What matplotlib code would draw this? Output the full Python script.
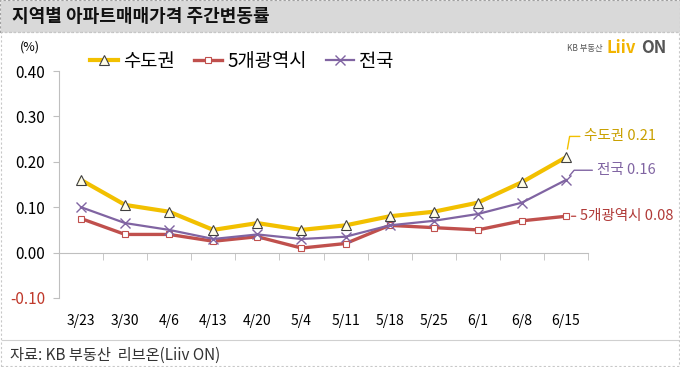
import matplotlib
matplotlib.use('Agg')
import matplotlib.pyplot as plt
from matplotlib.patches import Rectangle
from matplotlib.lines import Line2D

plt.rcParams['font.family'] = ['Noto Sans CJK KR', 'DejaVu Sans']

#data
weeks = ['3/23', '3/30', '4/6', '4/13', '4/20', '5/4', '5/11', '5/18', '5/25', '6/1', '6/8', '6/15']
sudo = [0.16, 0.105, 0.09, 0.05, 0.065, 0.05, 0.06, 0.08, 0.09, 0.11, 0.155, 0.21]
metro5 = [0.075, 0.04, 0.04, 0.025, 0.035, 0.01, 0.02, 0.06, 0.055, 0.05, 0.07, 0.08]
nation = [0.10, 0.065, 0.05, 0.03, 0.04, 0.03, 0.035, 0.06, 0.07, 0.085, 0.11, 0.16]
yticks = [-0.10, 0.00, 0.10, 0.20, 0.30, 0.40]

gold = '#F2C000'
red = '#C0504D'
purple = '#8064A2'
grey = '#BFBFBF'

W, H = 680, 367
fig = plt.figure(figsize=(6.8, 3.67), dpi=100)

#title band + borders
fig.patches.append(Rectangle((0, 1 - 32 / H), 1, 32 / H, transform=fig.transFigure,
                             facecolor='#D9D9D9', edgecolor='#A0A0A0', lw=0.8, ls=(0, (2, 2))))
fig.patches.append(Rectangle((0.001, 0.002), 0.997, 1 - 32 / H - 0.002, transform=fig.transFigure,
                             facecolor='none', edgecolor='#C8C8C8', lw=0.8, ls=(0, (2, 2))))
fig.text(12 / W, 1 - 17 / H, '지역별 아파트매매가격 주간변동률', fontsize=13, fontweight='bold',
         va='center', ha='left', color='#111111')
fig.add_artist(Line2D([0.003, 0.997], [1 - 340 / H] * 2, transform=fig.transFigure, color='#D0D0D0', lw=0.8))
fig.text(10 / W, 1 - 355 / H, '자료: KB 부동산  리브온(Liiv ON)', fontsize=11, va='center', ha='left', color='#333333')

#logo
fig.text(567 / W, 1 - 48 / H, 'KB 부동산', fontsize=6, va='center', ha='left', color='#555555')
fig.text(606 / W, 1 - 48 / H, 'Liiv', fontsize=12, fontweight='bold', va='center', ha='left', color='#F2B400')
fig.text(641 / W, 1 - 48 / H, 'ON', fontsize=12, fontweight='bold', va='center', ha='left', color='#555555')

ax = fig.add_axes([59 / W, 1 - 298 / H, 529 / W, 227 / H])
x = list(range(len(weeks)))

ax.plot(x, sudo, color=gold, lw=3.0, marker='^', ms=7, mfc='#FFFDE8', mec='#404040', mew=0.8, label='수도권', zorder=4)
ax.plot(x, metro5, color=red, lw=2.4, marker='s', ms=5, mfc='white', mec=red, mew=0.8, label='5개광역시', zorder=3)
ax.plot(x, nation, color=purple, lw=1.6, marker='x', ms=7, mec=purple, mew=1.0, label='전국', zorder=3)

ax.set_xlim(-0.5, len(weeks) - 0.5)
ax.set_ylim(-0.1, 0.4)
ax.set_yticks(yticks)
ax.set_yticklabels(['%.2f' % v for v in yticks], fontsize=11)
ax.get_yticklabels()[0].set_color('#C0392B')

ax.set_xticks(x)
ax.set_xticklabels(weeks, fontsize=11)
ax.set_xticks([i - 0.5 for i in range(len(weeks) + 1)], minor=True)
ax.tick_params(axis='x', which='major', length=0, pad=44)
ax.tick_params(axis='x', which='minor', length=5, color=grey, direction='out')
ax.tick_params(axis='y', length=4, color=grey, pad=6)

for s in ['top', 'right']:
    ax.spines[s].set_visible(False)
ax.spines['bottom'].set_position(('data', 0))
ax.spines['bottom'].set_color(grey)
ax.spines['left'].set_color(grey)

fig.text(30 / W, 1 - 47 / H, '(%)', fontsize=9, va='center', ha='center')

#end labels
ax.annotate('수도권 0.21', xy=(x[-1], sudo[-1]), xytext=(13, 15), textcoords='offset points',
            fontsize=10.5, color='#C9A000', va='center', ha='left',
            arrowprops=dict(arrowstyle='-', color=gold, lw=1, shrinkA=1, shrinkB=6,
                            connectionstyle='angle,angleA=180,angleB=80,rad=0'))
ax.annotate('전국 0.16', xy=(x[-1], nation[-1]), xytext=(22, 7), textcoords='offset points',
            fontsize=10.5, color=purple, va='center', ha='left',
            arrowprops=dict(arrowstyle='-', color=purple, lw=1, shrinkA=1, shrinkB=4,
                            connectionstyle='angle,angleA=180,angleB=50,rad=0'))
ax.annotate('5개광역시 0.08', xy=(x[-1], metro5[-1]), xytext=(10, 0), textcoords='offset points',
            fontsize=10.5, color='#B03A38', va='center', ha='left',
            arrowprops=dict(arrowstyle='-', color=red, lw=1, shrinkA=1, shrinkB=4))

leg = ax.legend(loc='upper left', bbox_to_anchor=(82 / W, 1 - 43 / H), bbox_transform=fig.transFigure,
                ncol=3, frameon=False, fontsize=13.5, handlelength=1.5, columnspacing=1.0,
                handletextpad=0.3, borderaxespad=0)

fig.savefig('out.png', dpi=100)
